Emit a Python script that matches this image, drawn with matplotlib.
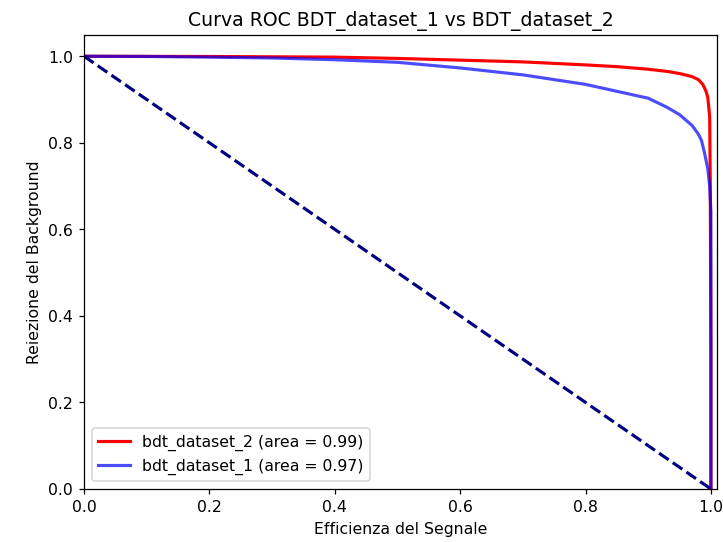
import matplotlib
matplotlib.use("Agg")
import matplotlib.pyplot as plt

# Data
red_label = "bdt_dataset_2 (area = 0.99)"
red_x = [0.0, 0.2, 0.4, 0.5, 0.6, 0.7, 0.8, 0.85, 0.9, 0.93, 0.95, 0.97, 0.98,
         0.987, 0.992, 0.995, 0.998, 0.999, 1.0, 1.0]
red_y = [1.0, 0.9995, 0.998, 0.995, 0.991, 0.987, 0.98, 0.976, 0.97, 0.965, 0.96,
         0.953, 0.946, 0.935, 0.92, 0.905, 0.86, 0.7, 0.3, 0.0]

blue_label = "bdt_dataset_1 (area = 0.97)"
blue_x = [0.0, 0.1, 0.2, 0.3, 0.4, 0.5, 0.6, 0.65, 0.7, 0.75, 0.8, 0.85, 0.9,
          0.93, 0.95, 0.97, 0.98, 0.985, 0.99, 0.995, 0.998, 1.0, 1.0]
blue_y = [1.0, 0.9995, 0.998, 0.996, 0.992, 0.986, 0.973, 0.965, 0.957, 0.946,
          0.935, 0.919, 0.903, 0.882, 0.865, 0.84, 0.82, 0.805, 0.775, 0.74,
          0.7, 0.64, 0.0]

diag_x = [0.0, 1.0]
diag_y = [1.0, 0.0]

fig = plt.figure(figsize=(6.4, 4.8), dpi=113)
ax = fig.add_axes([84 / 723, 53 / 542, 633 / 723, 454 / 542])

ax.plot(red_x, red_y, color="red", lw=2, label=red_label)
ax.plot(blue_x, blue_y, color="blue", lw=2, alpha=0.7, label=blue_label)
ax.plot(diag_x, diag_y, color="navy", lw=2, linestyle="--")

ax.set_xlim(0.0, 1.01)
ax.set_ylim(0.0, 1.05)
ax.set_xlabel("Efficienza del Segnale")
ax.set_ylabel("Reiezione del Background")
ax.set_title("Curva ROC BDT_dataset_1 vs BDT_dataset_2")
ax.legend(loc="lower left")

fig.savefig("out.png", dpi=113)
